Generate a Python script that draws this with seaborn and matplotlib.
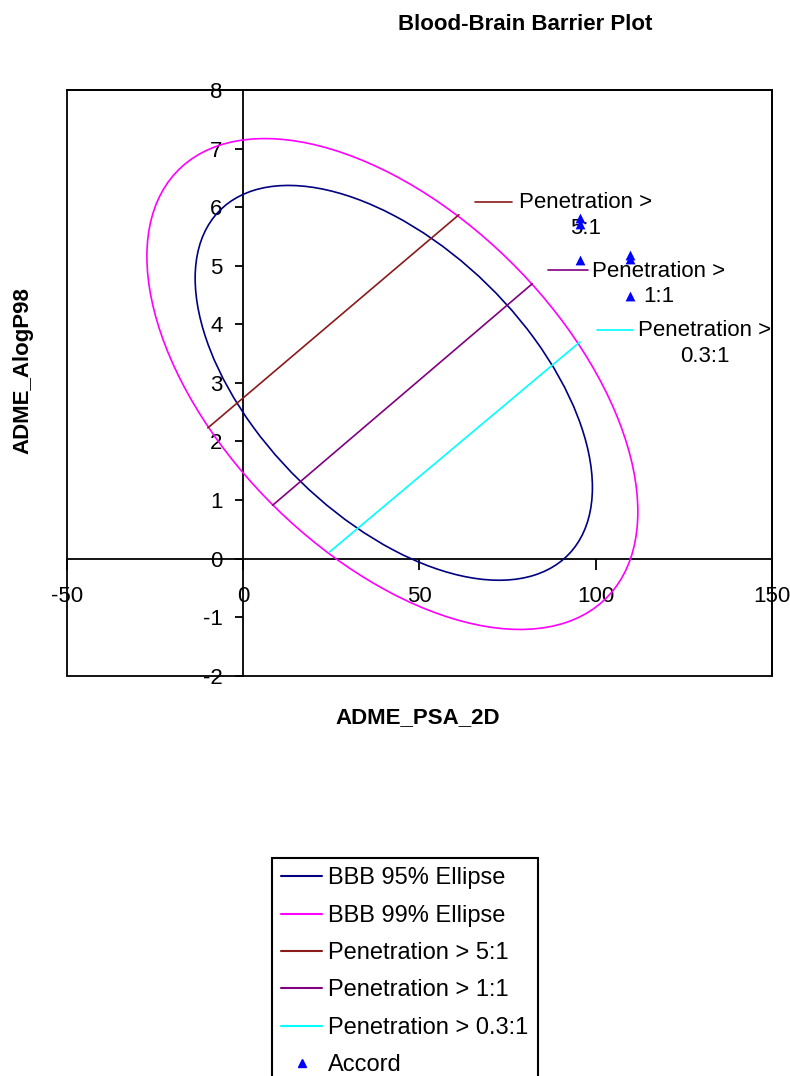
import numpy as np
import pandas as pd
import matplotlib
matplotlib.use('Agg')
import matplotlib.pyplot as plt
from matplotlib.patches import Ellipse, Rectangle
from matplotlib.lines import Line2D
import seaborn as sns

# ellipses: centre, half extent on each axis, tilt
ellipse_names = ['BBB 95% Ellipse', 'BBB 99% Ellipse']
ellipse_psa_centre = [42.7, 42.3]
ellipse_alogp_centre = [3.0, 2.98]
ellipse_psa_half = [56.4, 69.7]
ellipse_alogp_half = [3.37, 4.19]
ellipse_tilt = [-0.53, -0.52]

pen_names = ['Penetration > 5:1', 'Penetration > 1:1', 'Penetration > 0.3:1']
pen_psa_start = [-10.1, 8.3, 24.4]
pen_psa_end = [61.2, 82.0, 95.6]
pen_alogp_start = [2.23, 0.91, 0.11]
pen_alogp_end = [5.87, 4.69, 3.70]

accord_psa = [95.5, 95.5, 95.5, 109.7, 109.7, 109.7]
accord_alogp = [5.82, 5.72, 5.10, 5.18, 5.12, 4.48]

xticks = [-50, 0, 50, 100, 150]
yticks = [-2, -1, 0, 1, 2, 3, 4, 5, 6, 7, 8]

ellipse_colors = ['#000080', '#FF00FF']
pen_colors = ['#8B1A1A', '#800080', '#00FFFF']
accord_color = '#0000FF'

sns.set_theme(style='white')
plt.rcParams['font.family'] = ['Liberation Sans', 'DejaVu Sans']
plt.rcParams['axes.unicode_minus'] = False
plt.rcParams['text.color'] = 'black'

fig = plt.figure(figsize=(7.9, 10.76), dpi=100)
fig.patch.set_facecolor('white')
ax = fig.add_axes([0.0852, 0.372, 0.8916, 0.5444])

# ellipses
for i in range(len(ellipse_names)):
    hx, hy, t = ellipse_psa_half[i], ellipse_alogp_half[i], ellipse_tilt[i]
    m = np.array([[hx * hx, t * hx * hy], [t * hx * hy, hy * hy]])
    vals, vecs = np.linalg.eigh(m)
    ang = np.degrees(np.arctan2(vecs[1, 1], vecs[0, 1]))
    ax.add_patch(Ellipse((ellipse_psa_centre[i], ellipse_alogp_centre[i]),
                         2 * np.sqrt(vals[1]), 2 * np.sqrt(vals[0]), angle=ang,
                         fill=False, ec=ellipse_colors[i], lw=1.2, zorder=3))

# penetration lines
pen_df = pd.DataFrame({
    'series': np.repeat(pen_names, 2),
    'psa': np.ravel(np.column_stack([pen_psa_start, pen_psa_end])),
    'alogp': np.ravel(np.column_stack([pen_alogp_start, pen_alogp_end])),
})
sns.lineplot(data=pen_df, x='psa', y='alogp', hue='series',
             palette=dict(zip(pen_names, pen_colors)), sort=False,
             estimator=None, legend=False, lw=1.2, ax=ax, zorder=3)

sns.scatterplot(x=accord_psa, y=accord_alogp, marker='^', color=accord_color,
                s=50, linewidth=0, ax=ax, legend=False, zorder=5)

ax.set_xlim(-50, 150)
ax.set_ylim(-2, 8)
ax.set_xticks(xticks)
ax.set_yticks(yticks)
ax.set_xlabel('')
ax.set_ylabel('')
ax.spines['left'].set_position(('data', 0))
ax.spines['bottom'].set_position(('data', 0))
for s in ax.spines.values():
    s.set_color('black')
    s.set_linewidth(1.3)
ax.add_patch(Rectangle((0, 0), 1, 1, transform=ax.transAxes, fill=False,
                       ec='black', lw=1.3, clip_on=False, zorder=6))
ax.tick_params(axis='x', bottom=True, direction='out', length=8, width=1.3,
               pad=12, labelsize=16, colors='black')
ax.tick_params(axis='y', left=True, direction='out', length=6, width=1.3,
               pad=9, labelsize=16, colors='black')

# labels next to the lines, like the original
label_pos = [(0.579, 0.631, 0.809, 0.6412, 0.7857),
             (0.6825, 0.739, 0.6927, 0.7449, 0.6688),
             (0.7516, 0.803, 0.5902, 0.8102, 0.5675)]
label_text = ['Penetration >\n5:1', 'Penetration >\n1:1', 'Penetration >\n0.3:1']
for (x0, x1, yl, xt, yt), txt, c in zip(label_pos, label_text, pen_colors):
    ax.plot([x0, x1], [yl, yl], color=c, lw=1.2, transform=ax.transAxes)
    ax.text(xt, yt, txt, transform=ax.transAxes, ha='left', va='center',
            multialignment='center', fontsize=16, linespacing=1.3,
            color='black')

fig.text(525 / 790, 1 - 24 / 1076, 'Blood-Brain Barrier Plot', ha='center',
         va='center', fontsize=16, fontweight='bold', color='black')
fig.text(418 / 790, 1 - 718 / 1076, 'ADME_PSA_2D', ha='center', va='center',
         fontsize=16, fontweight='bold', color='black')
fig.text(23 / 790, 1 - 371 / 1076, 'ADME_AlogP98', ha='center', va='center',
         fontsize=16, fontweight='bold', rotation=90, color='black')

handles = [Line2D([], [], color=c, lw=1.5) for c in ellipse_colors + pen_colors]
handles.append(Line2D([], [], color=accord_color, marker='^', ls='none',
                      markersize=6))
leg = fig.legend(handles, ellipse_names + pen_names + ['Accord'],
                 loc='upper left', bbox_to_anchor=(271.7 / 790, 1 - 858 / 1076),
                 fontsize=17, frameon=True, fancybox=False, framealpha=1,
                 edgecolor='black', borderaxespad=0, borderpad=0.4,
                 handlelength=1.74, handletextpad=0.25, labelspacing=0.65)
leg.get_frame().set_linewidth(1.5)
for t in leg.get_texts():
    t.set_color('black')

fig.savefig('out.png', dpi=100)
